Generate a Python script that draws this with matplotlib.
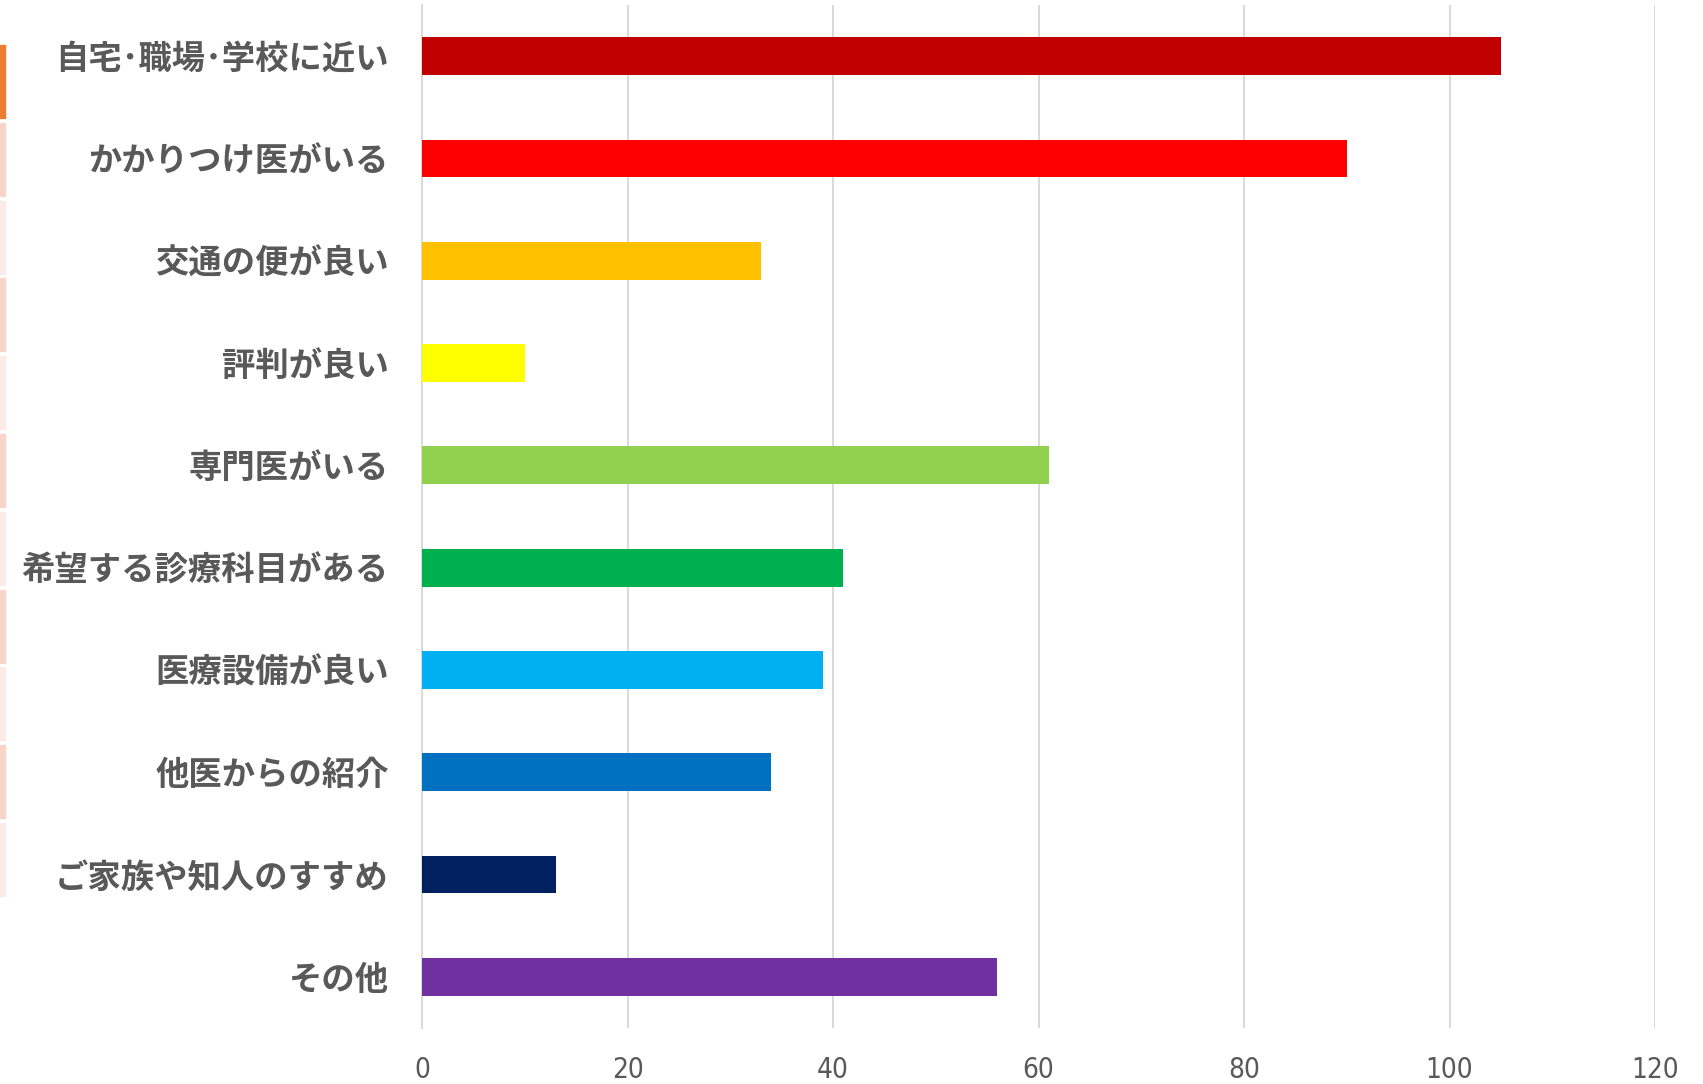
import matplotlib
matplotlib.use('Agg')
import matplotlib.pyplot as plt
from matplotlib.patches import Rectangle

plt.rcParams['font.family'] = ['Noto Sans CJK JP', 'DejaVu Sans']

# データ
categories = ['自宅･職場･学校に近い', 'かかりつけ医がいる', '交通の便が良い', '評判が良い',
              '専門医がいる', '希望する診療科目がある', '医療設備が良い', '他医からの紹介',
              'ご家族や知人のすすめ', 'その他']
counts = [105, 90, 33, 10, 61, 41, 39, 34, 13, 56]
bar_colors = ['#C00000', '#FF0000', '#FFC000', '#FFFF00', '#92D050',
              '#00B050', '#00B0F0', '#0070C0', '#002060', '#7030A0']
xticks = [0, 20, 40, 60, 80, 100, 120]

W, H = 1703, 1084
fig = plt.figure(figsize=(W / 100, H / 100), dpi=100)
ax = fig.add_axes([422 / W, 1 - 1028 / H, (1655 - 422) / W, (1028 - 5) / H])

ypos = list(range(len(categories)))
ax.barh(ypos, counts, height=0.37, color=bar_colors, zorder=3)

ax.set_xlim(0, 120)
ax.set_ylim(len(categories) - 0.5, -0.5)
ax.set_yticks(ypos)
ax.set_yticklabels(categories, fontsize=24, fontweight='bold', color='#595959')
ax.set_xticks(xticks)
ax.set_xticklabels([str(t) for t in xticks], fontsize=20, color='#595959',
                   family=['DejaVu Sans'], fontstretch='condensed')
ax.tick_params(axis='y', length=0, pad=24)
ax.tick_params(axis='x', length=0, pad=20)

ax.grid(axis='x', color='#D9D9D9', linewidth=1.4, zorder=0)
for s in ['top', 'right', 'bottom']:
    ax.spines[s].set_visible(False)
ax.spines['left'].set_color('#D9D9D9')
ax.spines['left'].set_linewidth(1.4)

# 左端の帯
strip_colors = ['#ED7D31'] + ['#F8D5C8', '#FBEAE5'] * 5
for i, c in enumerate(strip_colors):
    y0 = 45 + i * 77.8
    fig.patches.append(Rectangle((0, 1 - (y0 + 73) / H), 5 / W, 73 / H,
                                 transform=fig.transFigure, color=c, zorder=0))

plt.savefig('out.png', dpi=100)
